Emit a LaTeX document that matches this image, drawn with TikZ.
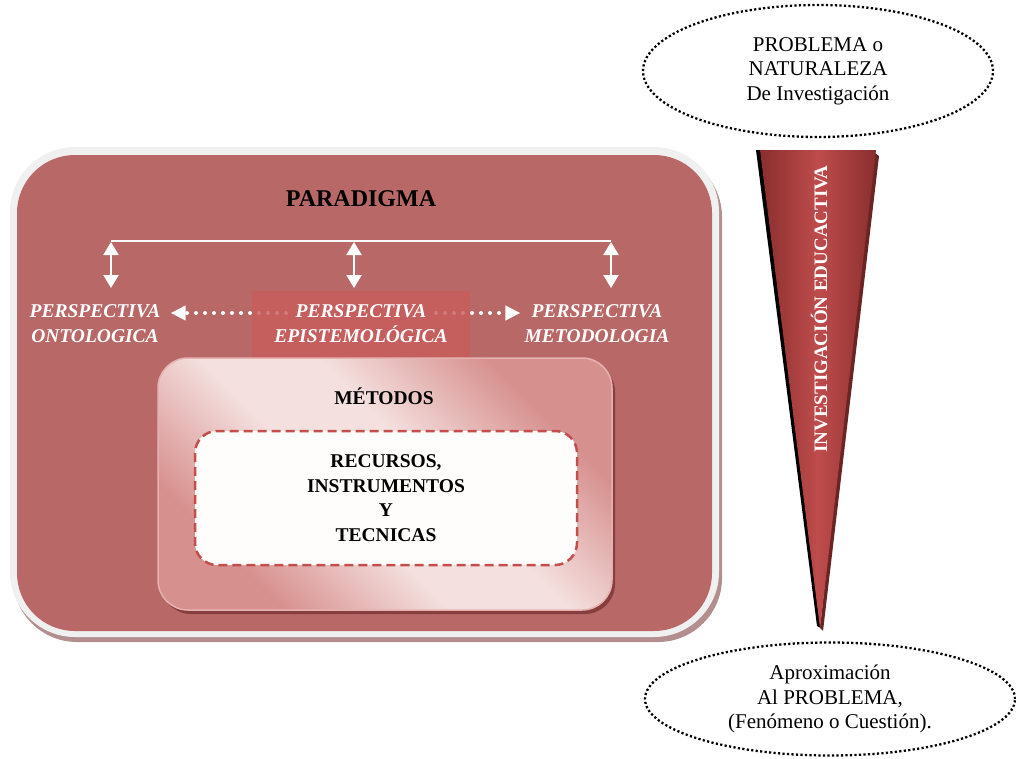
\documentclass[tikz,border=0pt]{standalone}
\usepackage{fontspec}
\setmainfont{Liberation Serif}
\usetikzlibrary{arrows.meta,shapes.geometric,calc}

\definecolor{parared}{RGB}{185,104,104}
\definecolor{hilite}{RGB}{200,94,92}
\definecolor{metlight}{RGB}{244,224,223}
\definecolor{metdark}{RGB}{214,144,142}
\definecolor{metedge}{RGB}{230,178,176}
\definecolor{metshadow}{RGB}{135,62,62}
\definecolor{dashred}{RGB}{196,78,76}
\definecolor{conedark}{RGB}{138,46,46}
\definecolor{conemid}{RGB}{190,76,76}
\definecolor{conedeep}{RGB}{105,36,36}
\definecolor{rimgray}{RGB}{240,240,240}
\definecolor{shadowrose}{RGB}{178,142,142}

% diagonal light band across the methods panel
\pgfdeclareverticalshading{methband}{100bp}{color(0bp)=(metdark); color(27bp)=(metdark);
  color(44bp)=(metlight); color(56bp)=(metlight); color(73bp)=(metdark); color(100bp)=(metdark)}

\tikzset{
  x=1pt, y=-1pt,
  title/.style={font=\fontsize{24}{28}\selectfont\bfseries},
  persp/.style={font=\fontsize{19.5}{25}\selectfont\bfseries\itshape, text=white, align=center, inner sep=2pt},
  boxtext/.style={font=\fontsize{19.5}{24.5}\selectfont\bfseries, align=center},
  bubble/.style={ellipse, draw=black, line width=2.3pt, dash pattern=on 2.2pt off 2.3pt,
    align=center, font=\fontsize{21}{24.5}\selectfont, inner sep=0pt},
  bus/.style={white, line width=2.2pt},
  linkarrow/.style={white, line width=2.2pt, {Triangle[width=15pt,length=13pt]}-{Triangle[width=15pt,length=13pt]}},
  dotarrow/.style={white, line width=4pt, line cap=round, dash pattern=on 0pt off 9pt,
    -{Triangle[width=14pt,length=15pt,line cap=butt]}},
}

\begin{document}
\begin{tikzpicture}
\useasboundingbox (0,0) rectangle (1016,758);

% paradigm frame: shadow, light rim, red body
\fill[shadowrose] (13,153) [rounded corners=64] rectangle (722,642);
\fill[rimgray] (10,147) [rounded corners=65] rectangle (719,637);
\fill[parared] (17,155) [rounded corners=58] rectangle (712,631);

\node[title] (para) at (361,199) {PARADIGMA};

% three perspectives
\node[persp] (ont) at (95,324) {PERSPECTIVA\\ONTOLOGICA};
\node[persp] (met) at (597,324) {PERSPECTIVA\\METODOLOGIA};

% bus and links
\coordinate (b1) at (111,241);
\coordinate (b2) at (354,241);
\coordinate (b3) at (611,241);
\draw[bus] (b1) -- (b3);
\draw[linkarrow] ($(b1)+(0,1)$) -- ($(b1)+(0,47)$);
\draw[linkarrow] ($(b2)+(0,1)$) -- ($(b2)+(0,47)$);
\draw[linkarrow] ($(b3)+(0,1)$) -- ($(b3)+(0,47)$);

% epistemology in a tinted band, dotted links to the sides
\path (361,324) coordinate (epic);
\draw[dotarrow] ($(epic)+(-75,-11)$) -- ($(ont.east)+(8,-11)$);
\draw[dotarrow] ($(epic)+(75,-11)$) -- ($(met.west)+(-2,-11)$);
\fill[hilite, opacity=0.82] (252,291) rectangle (470,358);
\node[persp] (epi) at (epic) {PERSPECTIVA\\EPISTEMOLÓGICA};

% methods panel
\fill[metshadow] (161,362) [rounded corners=30] rectangle (615,614);
\shade[shading=methband, shading angle=-45]
  (158,358) [rounded corners=30] rectangle (612,610);
\draw[metedge, line width=1.5pt] (158,358) [rounded corners=30] rectangle (612,610);
\node[boxtext] (meth) at (384,396) {MÉTODOS};

\draw[dashred, line width=2.5pt, dash pattern=on 9pt off 5pt, fill=white!99!red]
  (195,431) [rounded corners=22] rectangle (577,565);
\node[boxtext] (rec) at (386,498) {RECURSOS,\\INSTRUMENTOS\\Y\\TECNICAS};

% research cone
\fill[black] (756,150) -- (763,150) -- (821,628) -- (817,626) -- cycle;
\fill[conedeep] (872,151) -- (879,156) -- (823,631) -- (820,628) -- cycle;
\shade[left color=conedark, right color=conedark, middle color=conemid]
  (760,150) -- (876,150) -- (820,628) -- cycle;
\node[rotate=90, text=white, font=\fontsize{19}{22}\selectfont\bfseries] (inv) at (819,309)
  {INVESTIGACIÓN EDUCACTIVA};

% problem bubbles
\node[bubble, minimum width=350pt, minimum height=132pt] (prob) at (818,71)
  {PROBLEMA o\\NATURALEZA\\De Investigación};
\node[bubble, minimum width=370pt, minimum height=113pt] (aprox) at (830,699)
  {Aproximación\\Al PROBLEMA,\\(Fenómeno o Cuestión).};
\end{tikzpicture}
\end{document}
